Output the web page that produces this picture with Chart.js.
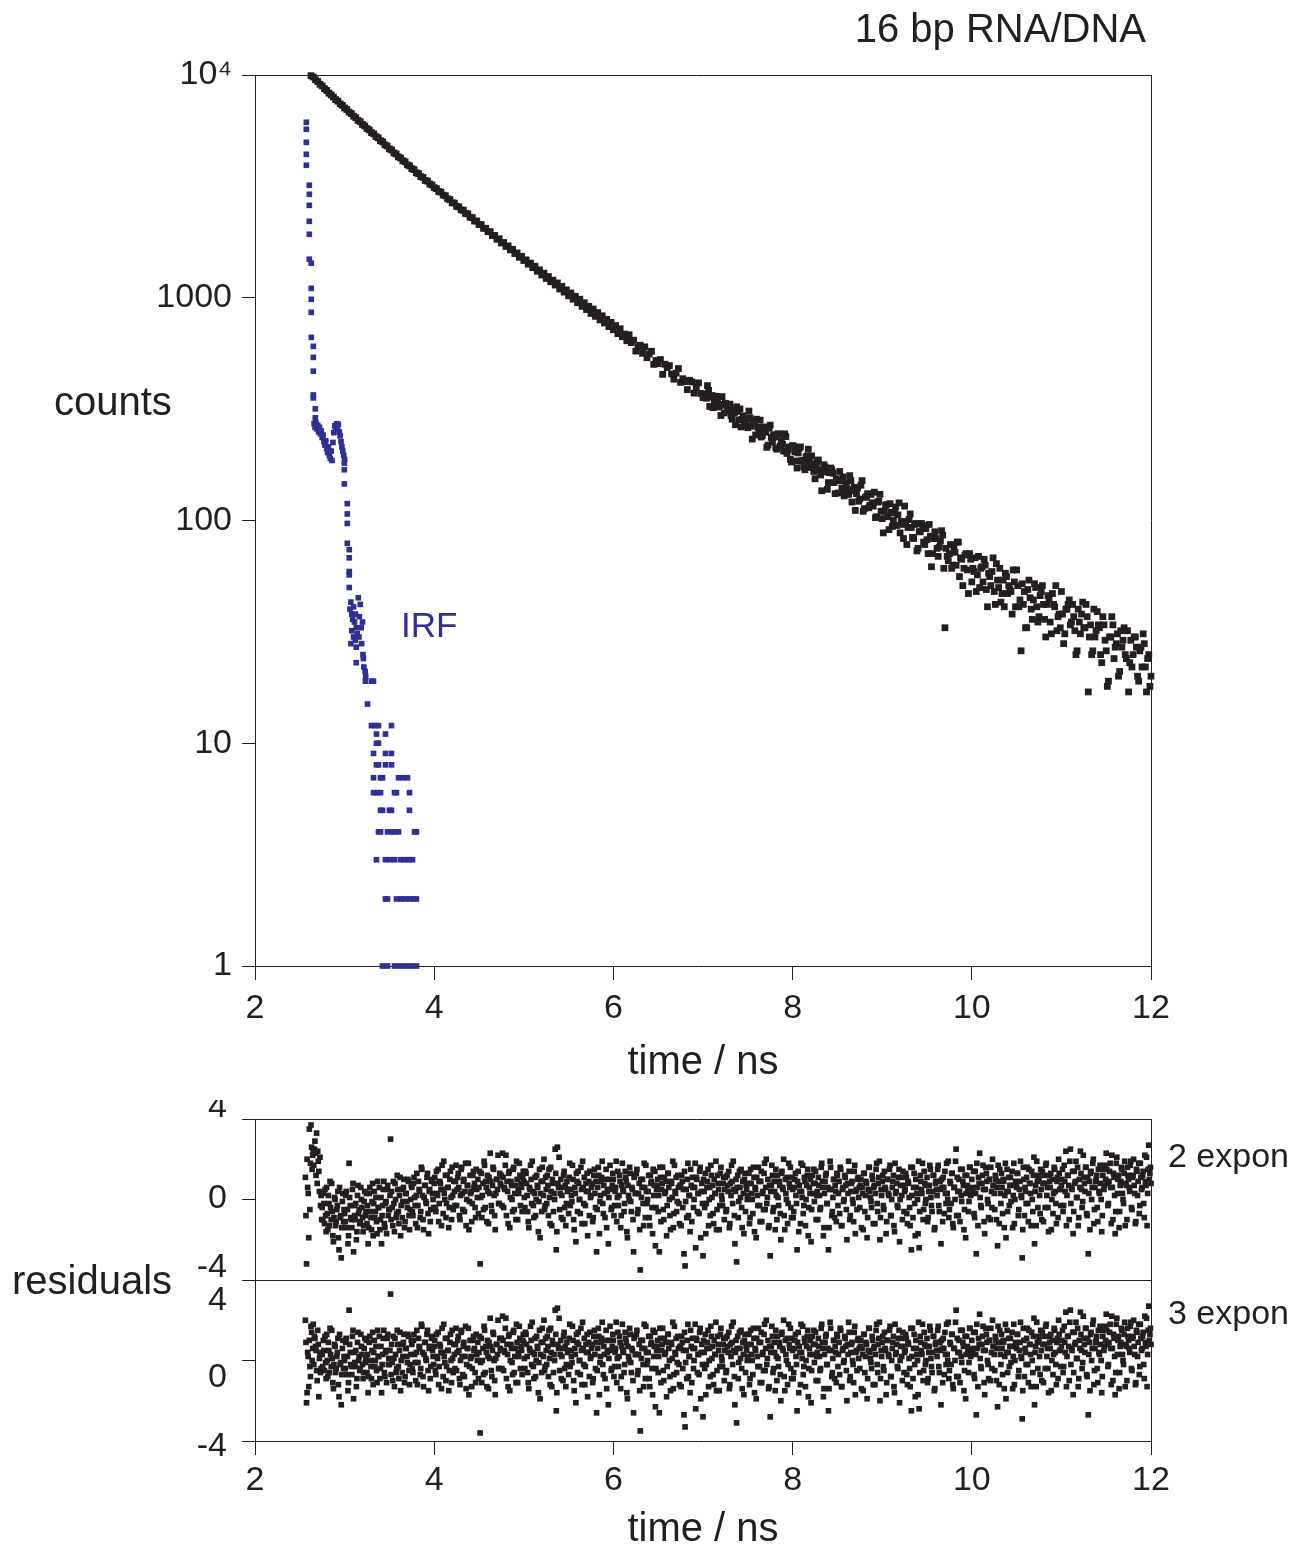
<!DOCTYPE html>
<html>
<head>
<meta charset="utf-8">
<title>16 bp RNA/DNA decay</title>
<script src="https://cdn.jsdelivr.net/npm/chart.js@4.4.0/dist/chart.umd.min.js"></script>
<style>
  html, body { margin: 0; padding: 0; background: #fff; }
  body { position: relative; width: 1304px; height: 1550px; overflow: hidden;
         font-family: "Liberation Sans", Arial, Helvetica, sans-serif; color: #231f20; }
  canvas { position: absolute; left: 0; }
  .lbl { position: absolute; white-space: nowrap; line-height: 1; }
</style>
</head>
<body>
<canvas id="decay-chart" width="1304" height="1100" style="top:0"></canvas>
<canvas id="res2-chart" width="1304" height="190" style="top:1100px"></canvas>
<canvas id="res3-chart" width="1304" height="280" style="top:1270px"></canvas>

<div class="lbl" style="right:158px; top:8px; font-size:40px">16 bp RNA/DNA</div>
<div class="lbl" style="left:54px; top:381px; font-size:40px">counts</div>
<div class="lbl" style="left:12px; top:1260px; font-size:40px">residuals</div>
<div class="lbl" style="left:1168px; top:1138px; font-size:34px">2 expon</div>
<div class="lbl" style="left:1168px; top:1295px; font-size:34px">3 expon</div>

<script>
// ======================= DATA =======================
// axis ticks
const timeTicks = [2, 4, 6, 8, 10, 12];
const countTicks = [1, 10, 100, 1000, 10000];
const countTickLabels = ['1', '10', '100', '1000', '10⁴'];
const residualTicks = [4, 0, -4];

// fluorescence decay, one count per channel (channel width 0.025 ns from 2.625 ns)
const decayStart = 2.625;
const decayStep = 0.025;
const decayCounts = [
  9930, 9790, 9520, 9350, 9090, 8930, 8680, 8530, 8290, 8140,
  7960, 7750, 7630, 7420, 7310, 7110, 7000, 6810, 6710, 6530,
  6430, 6250, 6170, 6000, 5910, 5750, 5670, 5510, 5440, 5290,
  5220, 5070, 5010, 4860, 4800, 4660, 4610, 4470, 4420, 4290,
  4240, 4120, 4080, 3950, 3910, 3800, 3760, 3640, 3610, 3500,
  3470, 3360, 3340, 3240, 3210, 3120, 3090, 3000, 2980, 2890,
  2870, 2780, 2760, 2670, 2660, 2570, 2560, 2480, 2470, 2390,
  2380, 2300, 2290, 2210, 2210, 2130, 2130, 2050, 2050, 1980,
  1980, 1900, 1905, 1830, 1840, 1760, 1770, 1700, 1710, 1640,
  1650, 1580, 1590, 1520, 1535, 1470, 1480, 1415, 1430, 1365,
  1385, 1315, 1335, 1265, 1290, 1220, 1245, 1180, 1200, 1140,
  1165, 1095, 1125, 1060, 1085, 1020, 1050, 985, 1015, 950,
  985, 915, 950, 885, 915, 850, 890, 825, 858, 795,
  830, 770, 800, 742, 775, 718, 750, 690, 726, 668,
  687, 641, 682, 629, 645, 576, 602, 612, 563, 602,
  538, 559, 575, 502, 523, 506, 528, 453, 503, 486,
  496, 455, 431, 459, 481, 417, 433, 420, 387, 426,
  419, 373, 397, 415, 372, 356, 370, 403, 325, 364,
  343, 361, 323, 296, 332, 336, 313, 333, 285, 304,
  324, 283, 263, 295, 279, 261, 289, 232, 272, 285,
  252, 237, 263, 249, 218, 268, 225, 237, 209, 244,
  228, 205, 238, 208, 188, 217, 203, 172, 211, 185,
  174, 193, 209, 173, 180, 154, 183, 169, 136, 178,
  166, 148, 172, 163, 132, 151, 166, 140, 129, 148,
  131, 151, 136, 111, 140, 125, 151, 113, 128, 114,
  131, 116, 103, 121, 131, 102, 110, 118, 91, 109,
  100, 115, 106, 88, 96, 116, 78, 101, 93, 83,
  97, 75, 89, 95, 78, 82, 96, 62, 83, 83,
  69, 81, 86, 33, 69, 71, 61, 76, 63, 80,
  68, 51, 70, 60, 71, 53, 59, 48, 69, 61,
  53, 63, 41, 56, 59, 48, 64, 50, 43, 54,
  58, 47, 49, 38, 53, 60, 41, 26, 42, 33,
  49, 45, 36, 52, 41, 37, 48, 42, 30, 46,
  35, 47, 41, 32, 38, 48, 28, 40, 42, 34,
  42, 32, 26, 35, 38, 33, 42, 17, 34, 26,
  30, 39, 33, 23, 34, 26, 19, 30, 34, 27,
  31, 21, 27, 33, 24, 17, 29, 25, 30, 20,
  26, 22, 28, 17, 25, 20
];
// half-step channels in the noisy tail (7.0375 - 11.9875 ns)
const decayMidStart = 7.0375;
const decayMidCounts = [
  354, 384, 358, 321, 361, 339, 328, 360, 304, 329,
  332, 296, 313, 269, 309, 317, 285, 267, 285, 310,
  265, 280, 242, 262, 282, 241, 257, 213, 260, 236,
  243, 212, 245, 216, 220, 245, 200, 214, 183, 215,
  185, 201, 214, 186, 169, 195, 183, 195, 166, 177,
  187, 160, 165, 174, 138, 164, 169, 148, 154, 133,
  151, 157, 131, 138, 159, 121, 141, 132, 122, 144,
  110, 127, 132, 117, 120, 134, 104, 122, 110, 88,
  117, 104, 119, 94, 108, 95, 120, 99, 83, 99,
  93, 107, 84, 96, 73, 89, 97, 80, 92, 71,
  85, 71, 89, 75, 76, 90, 61, 75, 66, 78,
  63, 72, 80, 56, 67, 61, 71, 47, 67, 61,
  68, 57, 50, 62, 67, 49, 58, 51, 68, 42,
  54, 61, 47, 41, 56, 51, 48, 60, 41, 51,
  44, 52, 48, 33, 54, 40, 44, 50, 35, 46,
  51, 36, 42, 45, 31, 42, 51, 37, 33, 38,
  31, 40, 44, 35, 37, 25, 40, 31, 43, 33,
  37, 30, 25, 40, 32, 34, 25, 37, 29, 18,
  30, 37, 24, 28, 20, 32, 29, 25, 32, 23,
  22, 30, 27, 19, 27, 31, 22, 24, 18
];

// instrument response function (time in ns, counts)
const irfTime = [
  2.573, 2.573, 2.573, 2.573, 2.573,
  2.606, 2.606, 2.606, 2.606, 2.606, 2.606,
  2.628, 2.628, 2.628, 2.628, 2.628,
  2.651, 2.651, 2.651, 2.651, 2.651, 2.673, 2.673,
  2.66, 2.67, 2.68, 2.69, 2.70, 2.71, 2.72, 2.73, 2.74, 2.75, 2.76, 2.77, 2.78, 2.79, 2.80,
  2.81, 2.82, 2.83, 2.84, 2.85, 2.86,
  2.87, 2.88, 2.89, 2.90, 2.91, 2.92, 2.93, 2.94, 2.95, 2.96, 2.97, 2.98, 2.99, 3.00,
  2.997, 2.997, 2.997, 3.03, 3.03, 3.03, 3.03,
  3.052, 3.052, 3.052, 3.052, 3.052, 3.153, 3.175,
  3.06, 3.07, 3.08, 3.09, 3.10, 3.11, 3.12, 3.13, 3.165, 3.14, 3.10, 3.08, 3.12, 3.07,
  3.13, 3.16, 3.185, 3.19, 3.20, 3.205, 3.215, 3.21, 3.13, 3.23, 3.235,
  3.233, 3.30, 3.322,
  3.256,
  3.30, 3.339, 3.378, 3.523,
  3.356, 3.456,
  3.356, 3.378,
  3.323, 3.456, 3.523,
  3.356, 3.378, 3.456, 3.523,
  3.323, 3.401, 3.423, 3.602, 3.652, 3.702,
  3.323, 3.362, 3.401, 3.557, 3.579, 3.724,
  3.401, 3.423, 3.501, 3.523, 3.724,
  3.378, 3.401, 3.479, 3.523, 3.563, 3.602, 3.78, 3.802,
  3.356, 3.456, 3.507, 3.557, 3.624, 3.669, 3.713, 3.758,
  3.456, 3.479, 3.579, 3.629, 3.680, 3.730, 3.775, 3.802,
  3.423, 3.479, 3.557, 3.607, 3.657, 3.708, 3.752, 3.802
];
const irfCounts = [
  6135, 5705, 4985, 4404, 3934,
  3200, 2913, 2600, 2204, 1927, 1489,
  1429, 1102, 984, 860, 664,
  605, 540, 468, 366, 355, 317, 289,
  272, 262, 275, 258, 268, 250, 262, 245, 252, 236, 242, 226, 218, 228, 210,
  202, 214, 196, 190, 205, 186,
  224, 248, 266, 258, 272, 262, 270, 250, 240, 226, 214, 205, 196, 188,
  181, 169, 146, 119, 107, 97, 79,
  74, 68, 59, 57, 50, 45, 42,
  40, 43, 38, 36, 41, 35, 38, 33, 37, 31, 30, 32, 29, 28,
  27, 30, 33, 28, 35, 25, 22, 24, 23, 21, 20,
  19, 19, 19,
  15,
  12, 12, 12, 12,
  11, 11,
  10, 10,
  9, 9, 9,
  8, 8, 8, 8,
  7, 7, 7, 7, 7, 7,
  6, 6, 6, 6, 6, 6,
  5, 5, 5, 5, 5,
  4, 4, 4, 4, 4, 4, 4, 4,
  3, 3, 3, 3, 3, 3, 3, 3,
  2, 2, 2, 2, 2, 2, 2, 2,
  1, 1, 1, 1, 1, 1, 1, 1
];

// weighted residuals, channel width 0.0125 ns from 2.5625 ns,
// plus the interleaved half-step channels from 2.56875 ns ("B" arrays)
const resStart = 2.5625;
const resStartB = 2.56875;
const resStep = 0.0125;
// 2.5625 - 4.9875 ns, two-exponential fit
const res2Early = [
  1.1, -3.2, 0.6, -1.9, -0.5, 3.7, 1.5, 2.4, 2.5, 2.3, 3.3, 2.4, 1.4, 2.1, 0.2,
  -0.4, 0.3, -1.2, -0.8, 0.6, -1.5, -0.2, 0.9, -1.0, -0.6, -2.1, 0.1, -1.3, -0.5, 0.4, -2.5, -0.9, -2.9, -0.1, -1.1,
  -0.7, 0.2, -1.4, -2.2, 1.8, -0.3, -1.0, 0.5, -2.6, -0.8, -0.2, -1.6, 0.7, -0.5, -1.1, 0.0, -0.9, -1.3, 0.4, -0.6,
  -1.2, -2.2, 0.3, -0.6, -1.5, 0.8, -0.2, -0.9, 0.1, -1.7, -0.4, 0.6, -1.0, -2.2, -0.3, 0.9, -1.4, -0.1, 0.5, -0.8,
  -0.5, 3.0, 0.4, -1.3, -0.2, 0.8, -0.9, 1.2, -0.6, 0.2, -1.8, 0.5, -0.1, 1.0, -1.1, 0.3, -0.4, 0.9, -1.5, 0.0,
  0.6, -0.8, 1.1, -0.3, 0.2, -1.4, 0.9, 0.4, -0.6, 1.5, -1.0, 0.1, 0.7, -0.2, 1.3, -1.7, 0.5, -0.5, 1.0, 0.0,
  0.8, -0.4, 1.4, 0.2, -1.1, 0.9, 0.5, 1.7, -0.7, 0.3, 1.2, -0.2, 0.6, -1.4, 1.0, 0.1, 1.6, -0.5, 0.4, 0.9,
  -0.3, 1.1, 0.6, -1.0, 1.5, 0.3, 0.9, -0.6, 1.8, 0.0, 0.7, -1.5, 1.2, 0.4, -0.2, 1.4, 0.8, -0.9, 0.5, 1.0,
  0.6, -3.2, 1.3, 0.2, -0.5, 1.7, 0.9, -1.1, 0.4, 1.1, 2.3, -0.3, 0.7, 1.5, -0.8, 0.3, 1.0, 2.2, -0.2, 0.8,
  1.2, 2.3, -0.4, 0.5, 2.2, 0.9, -1.2, 1.4, 0.1, 0.7, -0.6, 1.6, 0.3, -1.0, 1.0, 0.5, 1.8, -0.3, 0.6, 1.1
];
const res2EarlyB = [
  -0.8, 2.0, 0.3, 3.5, 1.8, 2.6, 2.2, 1.7, 2.9, 1.2, 0.8, 1.9, 0.4, -0.3, -1.0,
  -1.0, -0.2, 0.5, -1.6, -0.7, 0.2, -1.3, -0.4, 0.8, -1.8, -0.9, 0.0, -1.1, -0.3, -1.9, 0.6, -0.8, -1.4, 0.3, -0.5,
  -1.1, 0.4, -0.5, -1.8, 0.1, -0.9, -1.4, 0.8, -0.3, -1.0, -2.0, 0.2, -0.7, -1.2, 0.6, -0.4, -1.6, -0.1, -0.8, 0.3,
  -0.3, -1.4, 0.6, -0.9, -0.1, -1.8, 0.4, -0.6, -1.1, 0.9, -0.4, -1.5, 0.1, -0.8, 0.5, -1.2, -0.2, -1.7, 0.7, -0.5,
  0.2, -1.0, -0.4, 0.9, -1.6, 0.0, -0.7, 0.5, -1.2, 1.1, -0.3, -0.9, 0.6, -1.4, 0.3, -0.1, 1.0, -0.8, -0.5, 0.7,
  -0.6, 0.8, 0.1, -1.2, 1.3, -0.3, 0.5, -0.9, 1.6, 0.2, -1.5, 0.7, -0.1, 1.1, -0.7, 0.4, -1.1, 0.9, 0.3, -0.4,
  1.1, -0.6, 0.3, 1.5, -0.2, 0.8, -1.3, 0.5, 1.9, 0.0, -0.9, 1.2, 0.6, -0.4, 1.4, -1.0, 0.2, 0.9, -0.3, 1.7,
  0.5, 1.3, -0.8, 0.2, 1.6, -0.5, 1.0, 0.4, -1.3, 0.7, 1.8, -0.1, 0.3, -1.1, 1.2, 0.6, -0.4, 1.5, 0.1, -0.7,
  1.4, 0.1, -0.9, 0.8, 1.9, -0.4, 0.6, 1.2, -1.2, 0.3, 0.9, -0.6, 1.6, 0.2, -1.5, 1.0, 0.5, -0.2, 1.3, 0.7,
  -0.3, 1.1, 0.6, 1.7, -0.8, 0.4, 1.3, -1.4, 0.9, 0.0, 1.5, -0.5, 0.7, 1.9, -1.0, 0.3, 1.2, 0.8, -0.6, 1.4
];
// 2.5625 - 4.9875 ns, three-exponential fit
const res3Early = [
  2.0, -2.1, 0.4, -1.3, -0.3, 1.7, 0.0, 1.8, 1.2, 0.7, -0.5, 1.5, -1.8, 0.3, -0.4,
  0.3, 1.0, -0.5, -0.1, 1.3, -0.8, 0.5, 1.6, -0.3, 0.1, -1.4, 0.8, -0.6, 0.2, 1.1, -1.8, -0.2, -2.2, 0.6, -0.4,
  0.0, 0.9, -0.7, -1.5, 2.5, 0.4, -0.3, 1.2, -1.9, -0.1, 0.5, -0.9, 1.4, 0.2, -0.4, 0.7, -0.2, -0.6, 1.1, 0.1,
  -0.6, -1.6, 0.9, 0.0, -0.9, 1.4, 0.4, -0.3, 0.7, -1.1, 0.2, 1.2, -0.4, -1.6, 0.3, 1.5, -0.8, 0.5, 1.1, -0.2,
  -0.2, 3.3, 0.8, -1.0, 0.1, 1.1, -0.6, 1.5, -0.3, 0.5, -1.5, 0.8, 0.2, 1.3, -0.8, 0.6, -0.1, 1.2, -1.2, 0.3,
  0.8, -0.6, 1.3, -0.1, 0.4, -1.2, 1.1, 0.6, -0.4, 1.7, -0.8, 0.3, 0.9, 0.0, 1.5, -1.5, 0.7, -0.3, 1.2, 0.2,
  0.7, -0.5, 1.3, 0.1, -1.2, 0.8, 0.4, 1.6, -0.8, 0.2, 1.1, -0.3, 0.5, -1.5, 0.9, 0.0, 1.5, -0.6, 0.3, 0.8,
  -0.5, 1.0, 0.5, -1.2, 1.4, 0.2, 0.7, -0.8, 1.7, -0.2, 0.6, -1.7, 1.0, 0.2, -0.4, 1.2, 0.6, -1.1, 0.3, 0.9,
  0.4, -3.6, 1.1, 0.0, -0.7, 1.5, 0.7, -1.3, 0.2, 0.9, 2.1, -0.5, 0.5, 1.3, -1.0, 0.1, 0.8, 2.0, -0.4, 0.6,
  1.1, 2.2, -0.5, 0.4, 2.1, 0.8, -1.3, 1.3, 0.0, 0.6, -0.7, 1.5, 0.2, -1.1, 0.9, 0.4, 1.7, -0.4, 0.5, 1.0
];
const res3EarlyB = [
  0.9, -1.6, 0.2, 1.0, -0.8, 1.4, 0.6, -0.2, 1.1, 0.5, -1.0, 0.8, 0.1, -0.6, 0.4,
  -0.3, 0.5, 1.2, -0.9, 0.0, 0.9, -0.6, 0.3, 1.5, -1.1, -0.2, 0.7, -0.4, 0.4, -1.2, 1.3, -0.1, -0.7, 1.0, 0.2,
  -0.4, 1.1, 0.2, -1.1, 0.8, -0.2, -0.7, 1.5, 0.4, -0.3, -1.3, 0.9, 0.0, -0.5, 1.3, 0.3, -0.9, 0.6, -0.1, 1.0,
  0.3, -0.8, 1.2, -0.3, 0.5, -1.2, 1.0, 0.0, -0.5, 1.5, 0.2, -0.9, 0.7, -0.2, 1.1, -0.6, 0.4, -1.1, 1.3, 0.1,
  0.5, -0.7, -0.1, 1.2, -1.3, 0.3, -0.4, 0.8, -0.9, 1.4, 0.0, -0.6, 0.9, -1.1, 0.6, 0.2, 1.3, -0.5, -0.2, 1.0,
  -0.4, 1.0, 0.3, -1.0, 1.5, -0.1, 0.7, -0.7, 1.8, 0.4, -1.3, 0.9, 0.1, 1.3, -0.5, 0.6, -0.9, 1.1, 0.5, -0.2,
  1.0, -0.7, 0.2, 1.4, -0.3, 0.7, -1.4, 0.4, 1.8, -0.1, -1.0, 1.1, 0.5, -0.5, 1.3, -1.1, 0.1, 0.8, -0.4, 1.6,
  0.4, 1.2, -0.9, 0.0, 1.5, -0.7, 0.9, 0.2, -1.4, 0.6, 1.6, -0.3, 0.1, -1.3, 1.0, 0.5, -0.6, 1.3, 0.0, -0.9,
  1.2, -0.1, -1.1, 0.6, 1.7, -0.6, 0.4, 1.0, -1.4, 0.1, 0.7, -0.8, 1.4, 0.0, -1.7, 0.8, 0.3, -0.4, 1.1, 0.5,
  -0.4, 1.0, 0.5, 1.6, -0.9, 0.3, 1.2, -1.5, 0.8, -0.1, 1.4, -0.6, 0.6, 1.8, -1.1, 0.2, 1.1, 0.7, -0.7, 1.3
];
// 5.0 - 12.0 ns, both fits give the same residuals here
const resLate = [
  0.9, -0.4, 1.3, 0.2, -1.1, 0.6, 1.7, -0.2, 0.4, -0.9, 1.1, 0.0, 0.7, -1.6, 1.5, 0.3, -0.6, 0.9, 2.0, -0.3,
  0.5, 1.2, -0.8, 0.1, 1.6, -1.3, 0.8, 0.3, 2.5, -2.5, 2.6, 0.6, -0.5, 1.0, 0.2, -1.0, 1.4, 0.7, -0.2, 0.4,
  -0.7, 1.8, 0.5, -0.1, 1.0, -1.5, 0.3, 1.3, -0.6, 0.8, 0.0, 1.6, -1.2, 0.6, 1.1, -0.3, 0.4, -1.8, 0.9, 1.4,
  0.2, 0.8, -0.9, 1.5, -0.4, -2.6, 0.6, 1.2, -0.1, 0.9, 1.9, -0.7, 0.3, 1.0, -1.4, 0.5, 0.1, 1.7, -0.5, 0.7,
  1.0, -0.3, 0.6, -1.1, 1.4, 0.2, 0.9, -0.8, 1.8, 0.4, -0.2, 1.1, -1.6, 0.7, 0.0, 1.3, -0.6, 0.5, -2.6, 1.2,
  0.3, 1.5, -0.5, 0.8, -3.5, 0.1, 1.0, -1.3, 0.6, 1.7, -0.2, 0.4, -0.9, 1.2, 0.9, -1.7, 0.2, 1.4, -0.4, 0.7,
  -0.6, -2.6, 1.1, 0.5, 1.6, -1.0, 0.3, 0.9, -0.3, 1.3, 0.0, -1.5, 0.8, 1.9, -0.7, 0.4, 1.1, -0.1, 0.6, -1.2,
  0.7, 1.2, -0.4, -2.7, -3.3, 0.5, 1.0, -0.8, 0.2, 1.5, -1.1, 0.6, 0.0, 1.8, 1.1, -0.6, 0.3, 1.4, -1.9, 0.8,
  -2.8, 0.4, 1.3, -0.2, 0.9, -1.3, 0.6, 1.7, 0.1, -0.7, 1.0, 0.3, -1.5, 1.2, 0.5, -0.3, 1.6, 0.0, 0.8, -1.0,
  1.1, -0.5, 0.7, 1.4, -1.2, 0.2, 0.9, 1.9, -0.8, 0.4, -3.1, 1.2, -0.1, 0.6, 1.5, -1.4, 0.3, 1.0, -0.6, 0.5,
  0.2, 1.3, -0.9, 0.8, 0.0, 1.6, -1.6, 0.5, 1.1, -0.3, 0.9, -1.1, 1.4, 0.3, -0.5, 1.8, 0.6, -0.2, 1.0, -1.3,
  -2.8, 0.7, 1.2, -0.4, 0.4, 1.5, -1.0, 0.1, 0.9, -0.7, 1.3, 0.6, 2.0, -1.5, 0.3, 1.1, -0.2, 0.8, 1.6, -0.9,
  0.5, -0.6, 1.0, 0.2, -2.5, 1.4, 0.7, -1.2, 0.4, 1.7, -0.3, 0.9, 0.0, 1.2, -1.8, 0.6, 1.0, -0.5, 0.3, 1.5,
  0.8, -1.0, 0.4, 1.1, 0.2, -0.4, 1.8, 0.6, -1.4, 0.9, 1.3, -0.2, -2.5, 0.5, 1.6, -0.8, 0.1, 1.0, 0.7, -1.1,
  1.2, 0.3, -0.7, 1.5, -1.3, 0.6, 0.0, 1.1, -0.5, 0.8, 1.9, -1.0, 0.4, 0.9, -0.2, 1.4, -1.7, 0.5, 1.0, 0.1,
  -0.4, 1.0, 0.6, -1.5, 1.3, 0.2, 0.8, -0.9, 1.6, 0.4, -0.1, 1.2, -1.2, 0.7, 0.3, 1.8, -0.6, 1.1, -2.0, 0.5,
  0.9, -0.3, 1.4, 0.5, -1.1, 1.0, 0.2, 1.7, -0.8, 0.6, 1.2, -1.6, 0.3, 0.8, -0.4, 1.5, 0.0, 1.1, -1.0, 0.7,
  0.4, 1.3, -0.7, 0.9, 0.1, -1.3, -2.5, 1.6, 0.6, -0.2, 1.0, 0.3, -1.7, -2.4, 1.2, 0.5, 1.8, -0.5, 0.8, 0.0,
  1.1, -0.9, 0.7, 1.5, -0.3, 0.4, 1.2, -1.4, 0.9, 0.2, 1.7, -0.6, 0.5, 1.0, -1.1, 0.6, 1.4, -0.2, 0.3, 1.9,
  -0.5, 0.8, 1.3, -1.2, 0.6, 0.0, 2.5, 1.1, -0.8, 0.4, 1.5, -0.1, 0.9, -1.5, 1.2, 0.3, 0.7, -0.6, 1.6, 0.2,
  1.0, 0.4, -0.7, 1.4, -2.7, 0.6, 1.1, 2.3, -0.3, 0.8, 1.7, -1.1, 0.5, 1.3, 0.0, -0.9, 1.0, 1.6, -0.4, 0.7,
  0.3, 1.2, -1.0, -2.3, 0.9, 1.5, -0.2, 0.6, 1.0, -1.4, 1.8, 0.4, -0.6, 1.1, 0.7, -0.1, 1.4, 0.2, -1.2, 0.9,
  0.6, 1.3, -0.5, 0.9, 0.2, -2.9, 1.6, -0.8, 0.4, 1.1, -0.2, 1.5, 0.8, -1.3, 0.0, 1.2, -2.2, 0.7, 1.9, -0.4,
  1.0, -0.7, 0.5, 1.4, -1.1, 0.8, 1.7, 0.2, -0.4, 1.2, 0.6, -1.5, 1.0, 0.3, 1.5, -0.2, 0.9, -0.9, 1.3, 0.5,
  0.7, 1.5, -0.3, 0.9, 2.4, 0.2, 1.2, -1.0, 2.5, 0.6, 1.4, -0.6, 0.8, 1.9, 0.1, -1.3, 1.0, 2.4, 0.5, -0.1,
  1.1, 0.4, 1.6, -0.8, -2.7, 0.9, 1.3, 0.0, 1.8, -1.2, 0.6, 1.0, -0.4, 1.5, 0.3, 0.8, -1.6, 1.2, 0.5, 1.7,
  2.3, 0.8, -0.2, 1.4, 0.6, 2.2, -1.0, 1.1, -1.7, 1.8, 0.3, 1.2, -0.6, 0.9, 1.5, 0.0, 1.3, -1.3, 0.7, 1.6,
  1.0, 0.4, 1.9, -0.5, 1.2, 0.7, -1.2, 1.5, 0.2, 1.8, -0.3, 1.1, 0.6, 1.4, -0.9, 0.9, 2.1, 0.3, 2.7, 1.3,
  0.8
];
const resLateB = [
  0.1, 1.4, 0.8, -0.6, -1.4, 0.5, 1.0, 1.9, -0.3, 0.3, -0.8, 1.2, 0.6, -0.1, -1.9, 0.9, 1.6, 0.2, -0.5, 1.1,
  -0.2, 0.7, 1.5, -1.2, 0.4, 1.0, -0.6, 0.0, 1.3, -1.6, 0.8, 2.1, 0.3, -0.9, 0.6, 1.2, -0.4, -1.3, 0.9, 0.5,
  1.1, -0.3, 0.2, 1.7, -1.0, 0.6, -2.1, 0.9, 1.4, 0.0, -0.7, 0.5, 1.9, -0.2, -1.2, 0.8, 1.3, 0.4, -0.8, 0.1,
  0.6, -1.1, 1.2, 0.3, 0.9, -0.5, 1.6, -1.7, 0.2, 1.1, -0.2, 0.7, -0.9, 1.5, 0.4, -2.2, 1.0, 0.5, -0.4, 1.3,
  -0.8, 0.4, 1.9, 0.1, -0.3, 1.2, -1.4, 0.7, 0.5, -0.6, 1.4, 0.9, -1.9, 0.2, 1.6, -0.1, 0.6, -1.0, 1.1, 0.3,
  1.3, -0.7, 0.3, -1.5, 1.0, 0.6, -0.2, 1.8, -0.9, 0.4, 0.0, 1.2, -1.3, 0.8, -0.4, 1.5, 0.7, -2.3, 0.5, 1.0,
  0.2, 1.6, -1.1, 0.8, -0.5, 1.1, 0.4, -1.8, 1.3, 0.6, -0.8, 0.9, 0.1, -1.4, 1.7, 0.3, -0.6, 1.2, -0.2, 0.7,
  -1.3, 0.9, 0.5, 1.4, -0.1, -0.9, 1.8, 0.2, -1.6, 0.7, 1.1, -0.4, 0.6, -2.4, 1.0, 0.3, -0.7, 1.6, 0.4, -0.2,
  1.0, -0.4, -1.7, 0.6, 1.5, 0.0, -0.8, 1.2, 0.7, -1.2, 0.3, 1.9, -0.5, 0.8, -1.5, 1.3, 0.2, -0.3, 1.1, 0.5,
  -0.6, 1.2, 0.4, -1.4, 0.8, 1.7, -0.2, 0.5, -2.2, 1.0, 0.6, -0.9, 1.4, 0.1, -0.4, 0.9, -1.7, 1.3, 0.7, 0.0,
  0.8, -1.2, 1.5, 0.3, -0.7, 1.1, 0.6, -1.9, 0.2, 1.6, -0.3, 0.9, -1.1, 0.4, 1.3, -0.5, 2.0, 0.1, -1.4, 0.7,
  0.4, 1.7, -0.6, 0.9, -1.5, 0.2, 1.2, -0.3, 0.7, -2.0, 1.4, 0.5, -0.8, 1.0, 0.0, -1.2, 1.8, 0.6, -0.4, 1.1,
  -0.9, 0.6, 1.3, -0.2, 0.9, -1.6, 0.4, 1.8, 0.1, -0.7, 1.1, -1.3, 0.7, 1.5, -0.4, 0.3, -2.1, 1.2, 0.8, -0.1,
  1.4, 0.2, -1.0, 0.7, -0.5, 1.6, 0.9, -1.8, 0.3, 1.2, -0.2, 0.6, -1.4, 1.9, 0.5, -0.6, 1.0, -0.9, 0.4, 1.3,
  -0.3, 0.9, 1.6, -1.3, 0.5, -0.1, 1.2, 0.7, -2.0, 0.3, 1.4, -0.8, 0.8, 0.0, -1.1, 1.7, 0.4, -0.5, 1.1, 0.6,
  0.7, -1.4, 0.3, 1.3, -0.6, 0.9, -1.9, 0.5, 1.6, 0.1, -0.4, 1.0, 0.6, -1.2, 1.5, -0.2, 0.8, 1.9, -0.9, 0.2,
  1.2, -0.5, 0.6, -1.7, 1.0, 0.3, 1.5, -0.8, 0.0, 0.9, -1.3, 1.8, 0.4, -0.3, 1.1, -2.1, 0.7, 0.2, 1.4, -0.6,
  0.5, 1.1, -1.2, 0.8, -0.4, 1.6, 0.2, -0.9, 1.3, -1.8, 0.6, 0.0, 1.9, -0.6, 0.9, 0.3, -1.0, 1.4, -0.2, 0.7,
  -1.1, 0.4, 1.7, 0.1, -0.6, 1.2, -1.5, 0.8, 0.5, 1.5, -0.3, 0.9, -2.2, 0.6, 1.1, -0.7, 0.3, 1.8, 0.0, -0.9,
  0.9, -0.2, 1.3, -1.4, 0.6, 1.9, -0.8, 0.4, 1.0, -1.1, 0.2, 1.5, 0.7, -0.5, -1.9, 1.2, 0.5, -0.1, 1.6, 0.3,
  0.6, 1.4, -0.9, 0.3, 1.8, -1.3, 0.8, 0.1, -0.4, 1.2, 0.5, -1.7, 1.6, 0.9, -0.2, 1.0, -1.0, 0.4, 2.0, 0.7,
  -0.5, 1.0, 0.6, 1.7, -1.2, 0.3, 1.3, -0.7, 0.9, 0.2, -1.9, 1.5, 0.4, -0.3, 1.1, 0.7, -1.4, 1.8, 0.0, 0.8,
  1.3, -0.8, 0.5, 1.9, 0.1, -1.5, 1.0, 0.6, -0.2, 1.6, -1.1, 0.8, 0.3, 1.4, -0.6, 2.1, 0.4, -1.3, 0.9, 1.2,
  0.2, 1.5, -1.0, 0.8, 1.2, -0.4, 1.8, 0.6, -1.6, 0.9, 1.3, 0.0, -0.7, 1.6, 0.4, -1.2, 1.1, 2.0, 0.5, -0.3,
  1.0, -0.6, 1.7, 0.4, -1.3, 1.2, 0.7, 1.9, -0.2, 0.5, -1.7, 1.4, 0.9, 0.1, 1.6, -0.9, 0.6, 1.3, -0.4, 2.2,
  0.8, 1.6, -0.7, 1.1, 0.3, -1.5, 1.4, 0.6, 2.0, -0.5, 0.9, 1.2, -1.1, 0.4, 1.7, 0.0, -0.8, 1.5, 0.7, 1.0,
  1.5, -0.3, 0.9, 1.8, -1.2, 0.6, 1.3, 0.2, -0.6, 2.1, 1.0, -1.4, 0.7, 1.6, 0.3, -0.2, 1.9, 0.8, -1.0, 1.2,
  0.6, 1.7, -0.4, 1.1, 2.0, 0.3, -1.1, 1.4, 0.9, -0.7, 1.8, 0.5, 1.2, -0.2, 2.2, 0.7, -1.3, 1.5, 1.0, 1.6
];

// ======================= STYLE =======================
const INK = '#231f20';
const IRF_BLUE = '#2e3192';
const FONT = '"Liberation Sans", Arial, Helvetica, sans-serif';

Chart.defaults.font.family = FONT;
Chart.defaults.color = INK;

// ======================= POINTS =======================
function onGrid(values, start, step) {
  return values.map((v, i) => ({ x: start + i * step, y: v }));
}

const decayPoints = onGrid(decayCounts, decayStart, decayStep)
  .concat(onGrid(decayMidCounts, decayMidStart, decayStep));
const irfPoints = irfTime.map((t, i) => ({ x: t, y: irfCounts[i] }));
const res2Points = onGrid(res2Early.concat(resLate), resStart, resStep)
  .concat(onGrid(res2EarlyB.concat(resLateB), resStartB, resStep));
const res3Points = onGrid(res3Early.concat(resLate), resStart, resStep)
  .concat(onGrid(res3EarlyB.concat(resLateB), resStartB, resStep));

// ======================= PLUGINS =======================
// frame lines that chart.js does not draw itself (top / right / bottom of the boxes)
const boxPlugin = {
  id: 'box',
  afterDraw(chart, args, o) {
    const { ctx, chartArea: a } = chart;
    const L = Math.round(a.left) - 13, R = Math.round(a.right) + 0.5;
    ctx.save();
    ctx.strokeStyle = INK;
    ctx.lineWidth = 1;
    ctx.beginPath();
    if (o.top) { ctx.moveTo(L, Math.round(a.top) + 0.5); ctx.lineTo(R, Math.round(a.top) + 0.5); }
    if (o.bottom) { ctx.moveTo(L, Math.round(a.bottom) + 0.5); ctx.lineTo(R, Math.round(a.bottom) + 0.5); }
    ctx.moveTo(R, a.top);
    ctx.lineTo(R, a.bottom);
    ctx.stroke();
    ctx.restore();
  }
};

// residual tick labels (the original has them nudged off their ticks)
const residualLabels = {
  id: 'residualLabels',
  afterDraw(chart, args, o) {
    const { ctx } = chart;
    const y = chart.scales.y;
    ctx.save();
    ctx.font = '34px ' + FONT;
    ctx.fillStyle = INK;
    ctx.textAlign = 'right';
    ctx.textBaseline = 'middle';
    residualTicks.forEach((v, i) => {
      ctx.fillText(String(v), 227, y.getPixelForValue(v) + o.shift[i]);
    });
    ctx.restore();
  }
};

const irfLabel = {
  id: 'irfLabel',
  afterDatasetsDraw(chart) {
    const { ctx, scales } = chart;
    ctx.save();
    ctx.font = '35px ' + FONT;
    ctx.fillStyle = IRF_BLUE;
    ctx.textAlign = 'left';
    ctx.textBaseline = 'middle';
    ctx.fillText('IRF', scales.x.getPixelForValue(3.63), scales.y.getPixelForValue(33));
    ctx.restore();
  }
};

// ======================= AXIS HELPERS =======================
function tickGrid(len) {
  return { drawOnChartArea: false, drawTicks: true, tickLength: len, color: INK, lineWidth: 1 };
}

function timeAxis(display, height, labelPad, titlePad) {
  return {
    type: 'linear', min: 2, max: 12, display: display,
    afterBuildTicks: s => { s.ticks = timeTicks.map(v => ({ value: v })); },
    ticks: { font: { size: 34 }, padding: labelPad, maxRotation: 0, color: INK },
    grid: tickGrid(14),
    border: { display: true, color: INK, width: 1 },
    title: { display: true, text: 'time / ns', color: INK,
             font: { size: 40, lineHeight: 1 }, padding: { top: 0, bottom: titlePad } },
    afterFit: s => { s.height = height; }
  };
}

function residualAxis() {
  return {
    type: 'linear', min: -4, max: 4,
    afterBuildTicks: s => { s.ticks = residualTicks.map(v => ({ value: v })); },
    ticks: { display: false },
    grid: tickGrid(13),
    border: { display: true, color: INK, width: 1 },
    afterFit: s => { s.width = 255; }
  };
}

function scatterSet(data, color, radius) {
  return { data: data, pointStyle: 'rect', pointRadius: radius, backgroundColor: color,
           borderWidth: 0, pointHoverRadius: radius, clip: false };
}

const common = {
  responsive: false,
  animation: false,
  events: [],
};

// ======================= DECAY CHART =======================
new Chart(document.getElementById('decay-chart'), {
  type: 'scatter',
  data: { datasets: [
    scatterSet(irfPoints, IRF_BLUE, 4.0),
    scatterSet(decayPoints, INK, 4.8)
  ] },
  options: {
    ...common,
    layout: { autoPadding: false, padding: { left: 0, right: 153, top: 75, bottom: 0 } },
    plugins: { legend: { display: false }, tooltip: { enabled: false }, box: { top: true } },
    scales: {
      x: timeAxis(true, 134, 8, 17),
      y: {
        type: 'logarithmic', min: 1, max: 10000,
        afterBuildTicks: s => { s.ticks = countTicks.map(v => ({ value: v })); },
        ticks: { font: { size: 34 }, padding: 10, color: INK,
                 callback: (v, i) => countTickLabels[i] },
        grid: tickGrid(13),
        border: { display: true, color: INK, width: 1 },
        afterFit: s => { s.width = 255; }
      }
    }
  },
  plugins: [boxPlugin, irfLabel]
});

// ======================= RESIDUALS: 2 EXPON =======================
new Chart(document.getElementById('res2-chart'), {
  type: 'scatter',
  data: { datasets: [scatterSet(res2Points, INK, 4.0)] },
  options: {
    ...common,
    layout: { autoPadding: false, padding: { left: 0, right: 153, top: 19, bottom: 10 } },
    plugins: { legend: { display: false }, tooltip: { enabled: false },
               box: { top: true, bottom: true }, residualLabels: { shift: [-11, -1, -12] } },
    scales: { x: timeAxis(false, 0, 0, 0), y: residualAxis() }
  },
  plugins: [boxPlugin, residualLabels]
});

// ======================= RESIDUALS: 3 EXPON =======================
new Chart(document.getElementById('res3-chart'), {
  type: 'scatter',
  data: { datasets: [scatterSet(res3Points, INK, 4.0)] },
  options: {
    ...common,
    layout: { autoPadding: false, padding: { left: 0, right: 153, top: 10, bottom: 0 } },
    plugins: { legend: { display: false }, tooltip: { enabled: false },
               box: { top: true }, residualLabels: { shift: [21, 17, 6] } },
    scales: { x: timeAxis(true, 109, 5, 0), y: residualAxis() }
  },
  plugins: [boxPlugin, residualLabels]
});
</script>
</body>
</html>
